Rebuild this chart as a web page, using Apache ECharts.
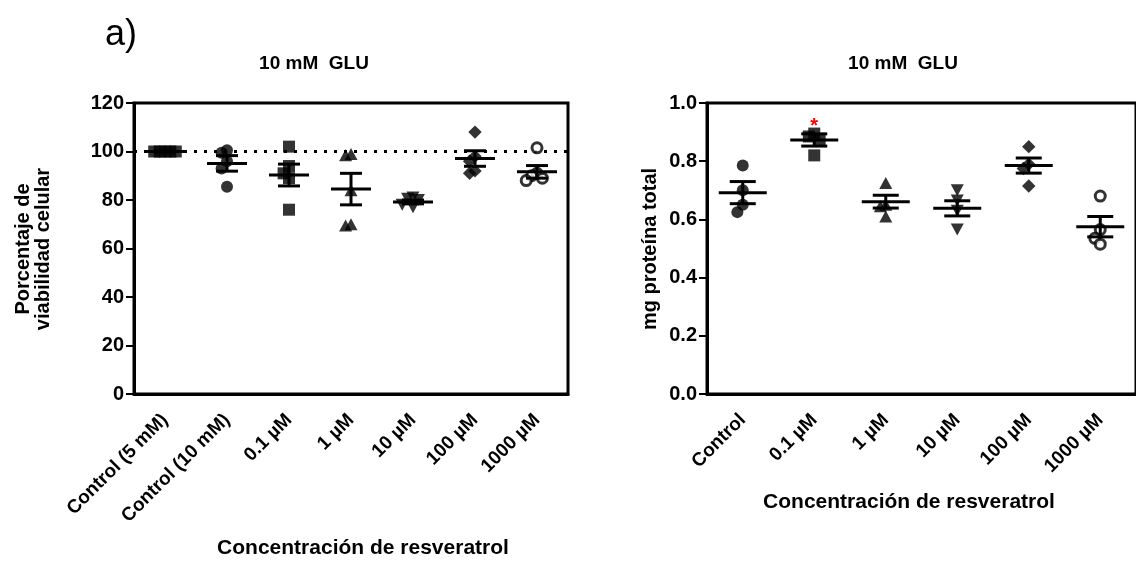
<!DOCTYPE html>
<html><head><meta charset="utf-8">
<script src="https://cdn.jsdelivr.net/npm/echarts@6/dist/echarts.min.js"></script>
<style>html,body{margin:0;padding:0;background:#fff}#c{width:1136px;height:563px}</style>
</head><body><div id="c"></div>
<script>
// ---------- data ----------
const catsA = ['Control (5 mM)', 'Control (10 mM)', '0.1 µM', '1 µM', '10 µM', '100 µM', '1000 µM'];
const viabPoints = [
  [100, 100, 100, 100, 100],
  [100.5, 99.5, 96, 93, 85.5],
  [102, 94, 91, 89, 76],
  [99, 98.5, 84, 70, 69.5],
  [81, 80.5, 80, 78, 77],
  [108, 98, 96, 92, 91],
  [101.5, 91, 90, 89, 88]
];
const viabMean = [100, 95.1, 90.3, 84.5, 79.2, 97.1, 91.6];
const viabSem = [0.2, 3.2, 4.5, 6.5, 0.8, 3.2, 2.6];
const viabRef = 100;
const yTicksA = [0, 20, 40, 60, 80, 100, 120];

const catsB = ['Control', '0.1 µM', '1 µM', '10 µM', '100 µM', '1000 µM'];
const protPoints = [
  [0.785, 0.70, 0.65, 0.625],
  [0.895, 0.885, 0.875, 0.82],
  [0.725, 0.65, 0.645, 0.61],
  [0.70, 0.665, 0.63, 0.565],
  [0.85, 0.79, 0.775, 0.715],
  [0.68, 0.565, 0.535, 0.515]
];
const protMean = [0.692, 0.873, 0.661, 0.638, 0.785, 0.575];
const protSem = [0.038, 0.021, 0.022, 0.026, 0.026, 0.035];
const protSig = [[1, 0.935]];
const yTicksB = [0, 0.2, 0.4, 0.6, 0.8, 1.0];

// ---------- styling ----------
const FONT = '"Liberation Sans", Arial, Helvetica, sans-serif';
const G = [
  { left: 134, top: 103, width: 434, height: 291 },
  { left: 707, top: 103, width: 434, height: 291 }
];
const symA = ['rect', 'circle', 'rect', 'triangle', 'inv', 'diamond', 'open'];
const symB = ['circle', 'rect', 'triangle', 'inv', 'diamond', 'open'];

function symStyle(kind) {
  switch (kind) {
    case 'rect': return { symbol: 'rect', symbolSize: 12, symbolRotate: 0, itemStyle: { color: '#000' } };
    case 'circle': return { symbol: 'circle', symbolSize: 12, symbolRotate: 0, itemStyle: { color: '#000' } };
    case 'triangle': return { symbol: 'triangle', symbolSize: [13, 12], symbolRotate: 0, itemStyle: { color: '#000' } };
    case 'inv': return { symbol: 'triangle', symbolSize: [13, 12], symbolRotate: 180, itemStyle: { color: '#000' } };
    case 'diamond': return { symbol: 'rect', symbolSize: 9.5, symbolRotate: 45, itemStyle: { color: '#000' } };
    case 'open': return { symbol: 'circle', symbolSize: 10, symbolRotate: 0, itemStyle: { color: '#fff', borderColor: '#000', borderWidth: 3 } };
  }
}

function swarm(vals, pxPerUnit, size, step) {
  const order = vals.map((v, i) => i).sort((a, b) => vals[b] - vals[a]);
  const placed = [];
  const off = new Array(vals.length).fill(0);
  for (const i of order) {
    const y = vals[i] * pxPerUnit;
    for (let k = 0; k < 30; k++) {
      const dx = k === 0 ? 0 : (k % 2 ? -1 : 1) * Math.ceil(k / 2) * step;
      const clash = placed.some(p => Math.abs(p.y - y) < size * 0.8 && Math.abs(p.x - dx) < step * 0.99);
      if (!clash) { off[i] = dx; placed.push({ x: dx, y: y }); break; }
    }
  }
  return off;
}

function meanSem(hw, cw) {
  return function (params, api) {
    const g = api.value(0), m = api.value(1), s = api.value(2);
    const pm = api.coord([g, m]), pt = api.coord([g, m + s]), pb = api.coord([g, m - s]);
    const st = { stroke: '#000', lineWidth: 3 };
    return {
      type: 'group', children: [
        { type: 'line', shape: { x1: pm[0] - hw, y1: pm[1], x2: pm[0] + hw, y2: pm[1] }, style: st },
        { type: 'line', shape: { x1: pm[0], y1: pt[1], x2: pm[0], y2: pb[1] }, style: st },
        { type: 'line', shape: { x1: pm[0] - cw, y1: pt[1], x2: pm[0] + cw, y2: pt[1] }, style: st },
        { type: 'line', shape: { x1: pm[0] - cw, y1: pb[1], x2: pm[0] + cw, y2: pb[1] }, style: st }
      ]
    };
  };
}

function pointSeries(points, syms, xIdx, yIdx, pxPerUnit) {
  return points.map((vals, g) => {
    const st = symStyle(syms[g]);
    const off = swarm(vals, pxPerUnit, 12, 5.4);
    return Object.assign({
      type: 'scatter', xAxisIndex: xIdx, yAxisIndex: yIdx, z: 3, silent: true,
      data: vals.map((v, i) => ({ value: [g, v], symbolOffset: [off[i], 0] }))
    }, st);
  });
}

const catAxis = (gi, cats, fs) => ({
  type: 'category', gridIndex: gi, data: cats, boundaryGap: true,
  axisLine: { onZero: false, lineStyle: { color: '#000', width: 3 } },
  axisTick: { alignWithLabel: true, length: 8, lineStyle: { color: '#000', width: 2 } },
  axisLabel: { rotate: 45, color: '#000', fontFamily: FONT, fontWeight: 'bold', fontSize: fs, margin: 23, interval: 0 },
  splitLine: { show: false }
});
const hiddenX = (gi, n) => ({ type: 'value', gridIndex: gi, min: -0.5, max: n - 0.5, show: false });
const valAxis = (gi, ticks, fmt) => ({
  type: 'value', gridIndex: gi, min: ticks[0], max: ticks[ticks.length - 1], interval: ticks[1] - ticks[0],
  axisLine: { show: true, onZero: false, lineStyle: { color: '#000', width: 3 } },
  axisTick: { show: true, length: 8, lineStyle: { color: '#000', width: 2 } },
  axisLabel: { color: '#000', fontFamily: FONT, fontWeight: 'bold', fontSize: 20, margin: 10, formatter: fmt },
  splitLine: { show: false }
});

const txt = (x, y, text, size, opts) => Object.assign({
  type: 'text', x: x, y: y, silent: true,
  style: Object.assign({ text: text, fill: '#000', font: 'bold ' + size + 'px ' + FONT, textAlign: 'center', textVerticalAlign: 'middle' }, (opts && opts.style) || {})
}, (opts && opts.el) || {});

const pxA = G[0].height / 120, pxB = G[1].height / 1.0;

const option = {
  animation: false,
  backgroundColor: '#fff',
  grid: G.map(g => Object.assign({ show: true, borderColor: '#000', borderWidth: 3, backgroundColor: 'transparent', containLabel: false }, g)),
  xAxis: [catAxis(0, catsA, 19), hiddenX(0, catsA.length), catAxis(1, catsB, 19), hiddenX(1, catsB.length)],
  yAxis: [valAxis(0, yTicksA, v => String(v)), valAxis(1, yTicksB, v => v.toFixed(1))],
  series: [
    {
      type: 'line', xAxisIndex: 1, yAxisIndex: 0, z: 1, symbol: 'none', silent: true,
      data: [[-0.5, viabRef], [catsA.length - 0.5, viabRef]],
      lineStyle: { color: '#000', width: 3, type: [3, 7] }
    },
    ...pointSeries(viabPoints, symA, 1, 0, pxA),
    {
      type: 'custom', xAxisIndex: 1, yAxisIndex: 0, z: 4, silent: true,
      renderItem: meanSem(20, 11), encode: { x: 0, y: 1 },
      data: viabMean.map((m, i) => [i, m, viabSem[i]])
    },
    ...pointSeries(protPoints, symB, 3, 1, pxB),
    {
      type: 'custom', xAxisIndex: 3, yAxisIndex: 1, z: 4, silent: true,
      renderItem: meanSem(24, 13), encode: { x: 0, y: 1 },
      data: protMean.map((m, i) => [i, m, protSem[i]])
    },
    {
      type: 'custom', xAxisIndex: 3, yAxisIndex: 1, z: 5, silent: true,
      renderItem: function (params, api) {
        const p = api.coord([api.value(0), api.value(1)]);
        return { type: 'text', x: p[0], y: p[1] + 5, style: { text: '*', fill: '#ff0000', font: 'bold 20px ' + FONT, textAlign: 'center', textVerticalAlign: 'middle' } };
      },
      encode: { x: 0, y: 1 },
      data: protSig
    }
  ],
  graphic: [
    { type: 'text', x: 105, y: 35, silent: true, style: { text: 'a)', fill: '#000', font: '36px ' + FONT, textAlign: 'left', textVerticalAlign: 'middle' } },
    txt(314, 64, '10 mM  GLU', 19),
    txt(903, 64, '10 mM  GLU', 19),
    txt(33, 249, 'Porcentaje de\nviabilidad celular', 20, { el: { rotation: Math.PI / 2 }, style: { lineHeight: 20 } }),
    txt(650, 249, 'mg proteína total', 20, { el: { rotation: Math.PI / 2 } }),
    txt(363, 548, 'Concentración de resveratrol', 21),
    txt(909, 502, 'Concentración de resveratrol', 21)
  ]
};

const chart = echarts.init(document.getElementById('c'), null, { renderer: 'canvas' });
chart.setOption(option);
</script>
</body></html>
